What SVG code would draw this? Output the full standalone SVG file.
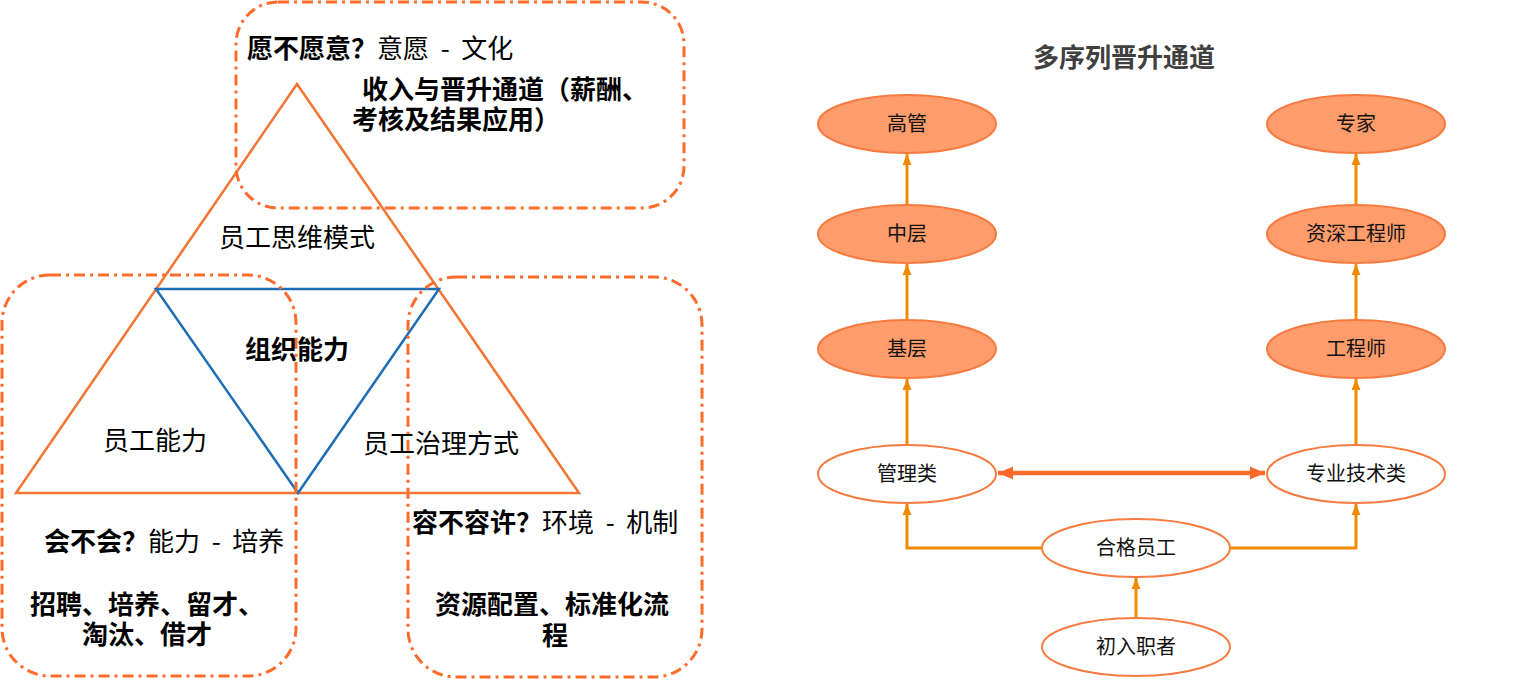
<svg xmlns="http://www.w3.org/2000/svg" width="1520" height="689" viewBox="0 0 1520 689">
<style>
text{font-family:"Noto Sans CJK SC","Noto Sans",sans-serif;fill:#000}
.t26{font-size:26px}
.b{font-weight:bold}
.n{font-weight:normal}
.box{fill:none;stroke:#FF6B2B;stroke-width:3;stroke-dasharray:11 5 3 5}
.tri{fill:none;stroke:#F47533;stroke-width:2.5;stroke-linejoin:miter}
.inv{fill:none;stroke:#1F6DB5;stroke-width:2.5}
.fill{fill:#FE9C6B;stroke:#F77A3E;stroke-width:2}
.open{fill:#fff;stroke:#F77A3E;stroke-width:2}
.lbl{font-size:20px;text-anchor:middle;fill:#111}
.arr{fill:none;stroke:#F08A00;stroke-width:3}
.dbl{fill:none;stroke:#FF6A2B;stroke-width:4.5}
</style>
<defs>
<marker id="ah" markerUnits="userSpaceOnUse" markerWidth="12" markerHeight="12" viewBox="0 0 12 12" refX="11" refY="6" orient="auto">
<path d="M0,1.5 L11,6 L0,10.5 Z" fill="#F08A00"/>
</marker>
<marker id="ad" markerUnits="userSpaceOnUse" markerWidth="16" markerHeight="16" viewBox="0 0 16 16" refX="15" refY="8" orient="auto-start-reverse">
<path d="M0,1.5 L15,8 L0,14.5 Z" fill="#FF6A2B"/>
</marker>
</defs>

<g id="triangle-outer">
<polygon class="tri" points="297,84 16,493 579,493"/>
</g>
<g id="triangle-inner">
<polygon class="inv" points="156,289 439,289 298,493"/>
</g>

<g id="box-top">
<rect class="box" x="236" y="2" width="448" height="206" rx="42" ry="42"/>
<text class="t26" x="247" y="58"><tspan class="b">愿不愿意？</tspan><tspan class="n">意愿 &#160;-&#160; 文化</tspan></text>
<text class="t26 b" x="362" y="99">收入与晋升通道（薪酬、</text>
<text class="t26 b" x="352" y="129">考核及结果应用）</text>
</g>

<g id="box-left">
<rect class="box" x="2" y="275" width="294" height="401" rx="48" ry="48"/>
<text class="t26" x="44" y="551"><tspan class="b">会不会？</tspan><tspan class="n">能力 &#160;-&#160; 培养</tspan></text>
<text class="t26 b" x="30" y="614">招聘、培养、留才、</text>
<text class="t26 b" x="147" y="644" text-anchor="middle">淘汰、借才</text>
</g>

<g id="box-right">
<rect class="box" x="408" y="277" width="294" height="400" rx="48" ry="48"/>
<text class="t26" x="412" y="532"><tspan class="b">容不容许？</tspan><tspan class="n">环境 &#160;-&#160; 机制</tspan></text>
<text class="t26 b" x="435" y="614">资源配置、标准化流</text>
<text class="t26 b" x="555" y="645" text-anchor="middle">程</text>
</g>

<g id="label-thinking"><text class="t26" x="297" y="247" text-anchor="middle">员工思维模式</text></g>
<g id="label-org"><text class="t26 b" x="297" y="359" text-anchor="middle">组织能力</text></g>
<g id="label-ability"><text class="t26" x="155" y="450" text-anchor="middle">员工能力</text></g>
<g id="label-governance"><text class="t26" x="441" y="453" text-anchor="middle">员工治理方式</text></g>

<g id="title"><text x="1124" y="67" font-size="26" font-weight="bold" text-anchor="middle" style="fill:#404040">多序列晋升通道</text></g>

<g id="connectors">
<line class="arr" x1="907" y1="320" x2="907" y2="264" marker-end="url(#ah)"/>
<line class="arr" x1="907" y1="205" x2="907" y2="154" marker-end="url(#ah)"/>
<line class="arr" x1="907" y1="445" x2="907" y2="379" marker-end="url(#ah)"/>
<line class="arr" x1="1356" y1="320" x2="1356" y2="264" marker-end="url(#ah)"/>
<line class="arr" x1="1356" y1="205" x2="1356" y2="154" marker-end="url(#ah)"/>
<line class="arr" x1="1356" y1="445" x2="1356" y2="379" marker-end="url(#ah)"/>
<path class="arr" d="M1042,548 H907 V504" marker-end="url(#ah)"/>
<path class="arr" d="M1230,548 H1356 V504" marker-end="url(#ah)"/>
<line class="arr" x1="1136" y1="617" x2="1136" y2="578" marker-end="url(#ah)"/>
<line class="dbl" x1="998" y1="473" x2="1265" y2="473" marker-start="url(#ad)" marker-end="url(#ad)"/>
</g>

<g id="n-gaoguan"><ellipse class="fill" cx="907" cy="124" rx="89" ry="29"/><text class="lbl" x="907" y="131">高管</text></g>
<g id="n-zhongceng"><ellipse class="fill" cx="907" cy="234" rx="89" ry="29"/><text class="lbl" x="907" y="241">中层</text></g>
<g id="n-jiceng"><ellipse class="fill" cx="907" cy="349" rx="89" ry="29"/><text class="lbl" x="907" y="356">基层</text></g>
<g id="n-guanli"><ellipse class="open" cx="907" cy="474" rx="89" ry="29"/><text class="lbl" x="907" y="481">管理类</text></g>
<g id="n-zhuanjia"><ellipse class="fill" cx="1356" cy="124" rx="89" ry="29"/><text class="lbl" x="1356" y="131">专家</text></g>
<g id="n-zishen"><ellipse class="fill" cx="1356" cy="234" rx="89" ry="29"/><text class="lbl" x="1356" y="241">资深工程师</text></g>
<g id="n-gongcheng"><ellipse class="fill" cx="1356" cy="349" rx="89" ry="29"/><text class="lbl" x="1356" y="356">工程师</text></g>
<g id="n-zhuanye"><ellipse class="open" cx="1356" cy="474" rx="89" ry="29"/><text class="lbl" x="1356" y="481">专业技术类</text></g>
<g id="n-hege"><ellipse class="open" cx="1136" cy="548" rx="94" ry="29"/><text class="lbl" x="1136" y="555">合格员工</text></g>
<g id="n-churu"><ellipse class="open" cx="1136" cy="647" rx="94" ry="29"/><text class="lbl" x="1136" y="654">初入职者</text></g>
</svg>
